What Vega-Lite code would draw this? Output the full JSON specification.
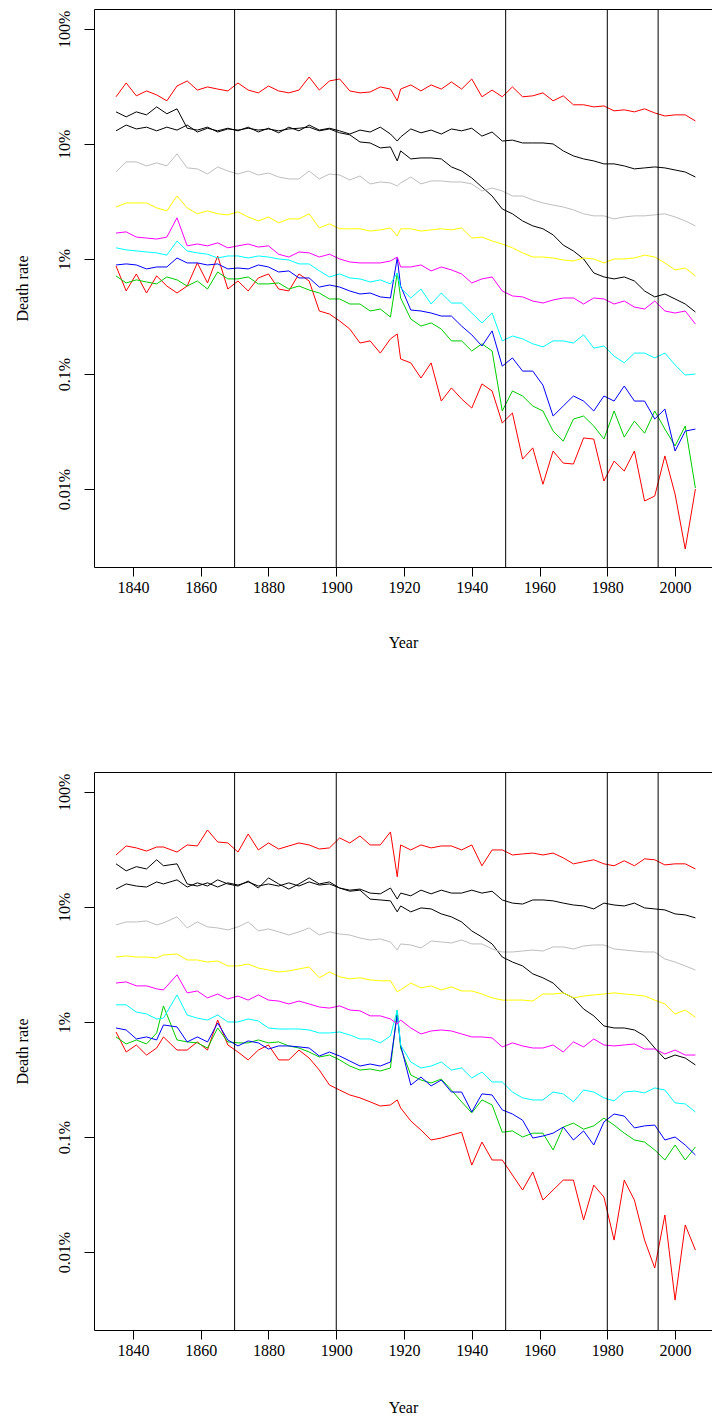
{
  "$schema": "https://vega.github.io/schema/vega-lite/v6.json",
  "background": "white",
  "padding": {"left": 13, "top": 8, "right": 0, "bottom": 0},
  "config": {
    "view": {"stroke": null},
    "concat": {"spacing": 121},
    "axis": {
      "labelFont": "Liberation Serif", "titleFont": "Liberation Serif",
      "labelFontSize": 16, "titleFontSize": 16, "titleFontWeight": "normal",
      "labelColor": "black", "titleColor": "black", "domainColor": "black", "tickColor": "black",
      "domainWidth": 1, "tickWidth": 1, "grid": false, "labelFlush": false, "labelOverlap": false, "labelBound": false
    }
  },
  "datasets": {
    "cuts": [{"year": 1870}, {"year": 1900}, {"year": 1950}, {"year": 1980}, {"year": 1995}],
    "rates": [
      {"p":"A","year":1835,"s01":19.0,"s02":0.869,"s03":0.712,"s04":0.887,"s05":1.25,"s06":1.68,"s07":2.83,"s08":5.70,"s09":13.0,"s10":25.7},
      {"p":"A","year":1838,"s01":17.2,"s02":0.527,"s03":0.619,"s04":0.906,"s05":1.20,"s06":1.72,"s07":3.07,"s08":6.98,"s09":14.6,"s10":33.9},
      {"p":"A","year":1841,"s01":19.0,"s02":0.741,"s03":0.658,"s04":0.887,"s05":1.174,"s06":1.55,"s07":3.07,"s08":6.98,"s09":13.5,"s10":26.2},
      {"p":"A","year":1844,"s01":17.9,"s02":0.506,"s03":0.631,"s04":0.819,"s05":1.15,"s06":1.52,"s07":3.07,"s08":6.44,"s09":14.0,"s10":28.9},
      {"p":"A","year":1847,"s01":21.0,"s02":0.712,"s03":0.607,"s04":0.852,"s05":1.13,"s06":1.49,"s07":2.78,"s08":6.84,"s09":13.0,"s10":26.7},
      {"p":"A","year":1850,"s01":18.3,"s02":0.582,"s03":0.698,"s04":0.852,"s05":1.08,"s06":1.55,"s07":2.62,"s08":6.44,"s09":14.0,"s10":23.7},
      {"p":"A","year":1853,"s01":20.2,"s02":0.506,"s03":0.658,"s04":1.02,"s05":1.434,"s06":2.28,"s07":3.53,"s08":8.20,"s09":13.2,"s10":31.9},
      {"p":"A","year":1856,"s01":13.7,"s02":0.582,"s03":0.582,"s04":0.924,"s05":1.174,"s06":1.30,"s07":2.78,"s08":6.19,"s09":14.6,"s10":35.3},
      {"p":"A","year":1859,"s01":13.2,"s02":0.924,"s03":0.644,"s04":0.924,"s05":1.13,"s06":1.35,"s07":2.47,"s08":6.07,"s09":12.7,"s10":29.4},
      {"p":"A","year":1862,"s01":14.0,"s02":0.619,"s03":0.548,"s04":0.887,"s05":1.10,"s06":1.30,"s07":2.62,"s08":5.48,"s09":13.7,"s10":31.3},
      {"p":"A","year":1865,"s01":12.7,"s02":1.062,"s03":0.771,"s04":0.906,"s05":1.02,"s06":1.38,"s07":2.47,"s08":6.31,"s09":13.0,"s10":30.0},
      {"p":"A","year":1868,"s01":13.5,"s02":0.548,"s03":0.671,"s04":0.819,"s05":1.062,"s06":1.25,"s07":2.42,"s08":5.82,"s09":13.7,"s10":28.9},
      {"p":"A","year":1871,"s01":13.2,"s02":0.644,"s03":0.671,"s04":0.835,"s05":1.062,"s06":1.30,"s07":2.57,"s08":5.48,"s09":13.0,"s10":33.9},
      {"p":"A","year":1874,"s01":13.7,"s02":0.527,"s03":0.698,"s04":0.819,"s05":1.02,"s06":1.35,"s07":2.32,"s08":5.82,"s09":14.0,"s10":29.4},
      {"p":"A","year":1877,"s01":13.2,"s02":0.684,"s03":0.607,"s04":0.887,"s05":1.062,"s06":1.27,"s07":2.14,"s08":5.37,"s09":12.7,"s10":27.8},
      {"p":"A","year":1880,"s01":13.5,"s02":0.741,"s03":0.607,"s04":0.852,"s05":1.04,"s06":1.30,"s07":2.32,"s08":5.59,"s09":13.7,"s10":31.9},
      {"p":"A","year":1883,"s01":13.0,"s02":0.548,"s03":0.619,"s04":0.771,"s05":1.0,"s06":1.10,"s07":2.06,"s08":5.16,"s09":12.5,"s10":28.9},
      {"p":"A","year":1886,"s01":13.5,"s02":0.527,"s03":0.548,"s04":0.787,"s05":0.98,"s06":1.04,"s07":2.23,"s08":4.96,"s09":14.0,"s10":27.8},
      {"p":"A","year":1889,"s01":13.7,"s02":0.741,"s03":0.582,"s04":0.684,"s05":0.906,"s06":1.15,"s07":2.23,"s08":4.96,"s09":13.0,"s10":29.4},
      {"p":"A","year":1892,"s01":14.0,"s02":0.644,"s03":0.537,"s04":0.684,"s05":0.906,"s06":1.13,"s07":2.47,"s08":5.82,"s09":14.6,"s10":38.2},
      {"p":"A","year":1895,"s01":13.0,"s02":0.353,"s03":0.506,"s04":0.570,"s05":0.787,"s06":1.04,"s07":1.86,"s08":4.96,"s09":13.2,"s10":29.4},
      {"p":"A","year":1898,"s01":13.5,"s02":0.332,"s03":0.449,"s04":0.594,"s05":0.698,"s06":1.10,"s07":2.02,"s08":5.48,"s09":13.7,"s10":35.3},
      {"p":"A","year":1901,"s01":12.5,"s02":0.289,"s03":0.449,"s04":0.570,"s05":0.741,"s06":1.0,"s07":1.83,"s08":5.37,"s09":13.0,"s10":36.7},
      {"p":"A","year":1904,"s01":12.0,"s02":0.246,"s03":0.406,"s04":0.527,"s05":0.684,"s06":0.942,"s07":1.83,"s08":4.86,"s09":12.2,"s10":28.9},
      {"p":"A","year":1907,"s01":10.4,"s02":0.186,"s03":0.406,"s04":0.496,"s05":0.671,"s06":0.924,"s07":1.83,"s08":5.27,"s09":13.2,"s10":27.8},
      {"p":"A","year":1910,"s01":10.2,"s02":0.194,"s03":0.353,"s04":0.506,"s05":0.631,"s06":0.924,"s07":1.75,"s08":4.49,"s09":12.7,"s10":28.3},
      {"p":"A","year":1913,"s01":9.24,"s02":0.152,"s03":0.367,"s04":0.468,"s05":0.658,"s06":0.924,"s07":1.79,"s08":4.67,"s09":14.0,"s10":31.3},
      {"p":"A","year":1916,"s01":9.42,"s02":0.202,"s03":0.313,"s04":0.458,"s05":0.607,"s06":0.961,"s07":1.86,"s08":4.58,"s09":12.2,"s10":30.0},
      {"p":"A","year":1918,"s01":7.12,"s02":0.223,"s03":0.756,"s04":1.02,"s05":0.756,"s06":1.04,"s07":1.585,"s08":4.31,"s09":10.6,"s10":23.7},
      {"p":"A","year":1919,"s01":8.70,"s02":0.135,"s03":0.458,"s04":0.582,"s05":0.560,"s06":0.852,"s07":1.83,"s08":4.58,"s09":11.5,"s10":30.0},
      {"p":"A","year":1922,"s01":7.41,"s02":0.125,"s03":0.301,"s04":0.360,"s05":0.458,"s06":0.852,"s07":1.83,"s08":5.16,"s09":13.5,"s10":32.6},
      {"p":"A","year":1925,"s01":7.56,"s02":0.0923,"s03":0.261,"s04":0.353,"s05":0.548,"s06":0.887,"s07":1.75,"s08":4.49,"s09":12.5,"s10":28.9},
      {"p":"A","year":1928,"s01":7.56,"s02":0.125,"s03":0.278,"s04":0.339,"s05":0.406,"s06":0.787,"s07":1.79,"s08":4.77,"s09":13.2,"s10":32.6},
      {"p":"A","year":1931,"s01":7.41,"s02":0.0582,"s03":0.246,"s04":0.319,"s05":0.506,"s06":0.852,"s07":1.83,"s08":4.77,"s09":12.2,"s10":30.0},
      {"p":"A","year":1934,"s01":6.31,"s02":0.0757,"s03":0.194,"s04":0.319,"s05":0.414,"s06":0.803,"s07":1.79,"s08":4.67,"s09":13.5,"s10":34.6},
      {"p":"A","year":1937,"s01":5.82,"s02":0.0607,"s03":0.194,"s04":0.261,"s05":0.414,"s06":0.741,"s07":1.86,"s08":4.67,"s09":13.0,"s10":30.0},
      {"p":"A","year":1940,"s01":5.06,"s02":0.0506,"s03":0.1585,"s04":0.219,"s05":0.339,"s06":0.619,"s07":1.52,"s08":4.49,"s09":13.7,"s10":36.7},
      {"p":"A","year":1943,"s01":4.22,"s02":0.0820,"s03":0.183,"s04":0.175,"s05":0.278,"s06":0.671,"s07":1.55,"s08":3.90,"s09":11.7,"s10":25.7},
      {"p":"A","year":1946,"s01":3.53,"s02":0.0712,"s03":0.1585,"s04":0.237,"s05":0.339,"s06":0.698,"s07":1.434,"s08":4.14,"s09":12.7,"s10":29.4},
      {"p":"A","year":1949,"s01":2.72,"s02":0.0375,"s03":0.0477,"s04":0.117,"s05":0.194,"s06":0.527,"s07":1.35,"s08":3.90,"s09":10.6,"s10":25.7},
      {"p":"A","year":1952,"s01":2.47,"s02":0.0458,"s03":0.0712,"s04":0.138,"s05":0.214,"s06":0.477,"s07":1.25,"s08":3.53,"s09":10.8,"s10":31.3},
      {"p":"A","year":1955,"s01":2.14,"s02":0.0182,"s03":0.0644,"s04":0.106,"s05":0.202,"s06":0.468,"s07":1.13,"s08":3.53,"s09":10.2,"s10":25.7},
      {"p":"A","year":1958,"s01":1.94,"s02":0.0228,"s03":0.0527,"s04":0.106,"s05":0.183,"s06":0.431,"s07":1.04,"s08":3.26,"s09":10.2,"s10":26.2},
      {"p":"A","year":1961,"s01":1.83,"s02":0.0110,"s03":0.0477,"s04":0.080,"s05":0.172,"s06":0.414,"s07":1.04,"s08":3.07,"s09":10.2,"s10":27.8},
      {"p":"A","year":1964,"s01":1.62,"s02":0.0214,"s03":0.0319,"s04":0.0431,"s05":0.194,"s06":0.440,"s07":1.02,"s08":2.94,"s09":10.0,"s10":23.7},
      {"p":"A","year":1967,"s01":1.32,"s02":0.0168,"s03":0.0261,"s04":0.0527,"s05":0.194,"s06":0.458,"s07":0.98,"s08":2.83,"s09":8.70,"s10":26.2},
      {"p":"A","year":1970,"s01":1.174,"s02":0.0165,"s03":0.0406,"s04":0.0644,"s05":0.186,"s06":0.458,"s07":0.961,"s08":2.67,"s09":7.87,"s10":21.9},
      {"p":"A","year":1973,"s01":1.0,"s02":0.0278,"s03":0.0431,"s04":0.0582,"s05":0.219,"s06":0.406,"s07":1.02,"s08":2.47,"s09":7.41,"s10":21.9},
      {"p":"A","year":1976,"s01":0.756,"s02":0.0272,"s03":0.0353,"s04":0.0477,"s05":0.168,"s06":0.458,"s07":1.0,"s08":2.37,"s09":7.12,"s10":21.0},
      {"p":"A","year":1979,"s01":0.698,"s02":0.01174,"s03":0.0272,"s04":0.0644,"s05":0.175,"s06":0.449,"s07":0.924,"s08":2.37,"s09":6.71,"s10":21.4},
      {"p":"A","year":1982,"s01":0.671,"s02":0.0175,"s03":0.0477,"s04":0.0582,"s05":0.143,"s06":0.406,"s07":1.0,"s08":2.23,"s09":6.71,"s10":19.4},
      {"p":"A","year":1985,"s01":0.698,"s02":0.01434,"s03":0.0283,"s04":0.0787,"s05":0.125,"s06":0.431,"s07":1.0,"s08":2.32,"s09":6.44,"s10":19.8},
      {"p":"A","year":1988,"s01":0.644,"s02":0.0214,"s03":0.0390,"s04":0.0582,"s05":0.152,"s06":0.382,"s07":1.02,"s08":2.37,"s09":6.07,"s10":19.0},
      {"p":"A","year":1991,"s01":0.527,"s02":0.00787,"s03":0.0306,"s04":0.0582,"s05":0.152,"s06":0.367,"s07":1.08,"s08":2.37,"s09":6.19,"s10":20.2},
      {"p":"A","year":1994,"s01":0.468,"s02":0.00869,"s03":0.0477,"s04":0.0406,"s05":0.138,"s06":0.431,"s07":1.04,"s08":2.42,"s09":6.31,"s10":18.6},
      {"p":"A","year":1997,"s01":0.496,"s02":0.0194,"s03":0.0332,"s04":0.0496,"s05":0.152,"s06":0.353,"s07":0.924,"s08":2.47,"s09":6.19,"s10":17.5},
      {"p":"A","year":2000,"s01":0.449,"s02":0.00904,"s03":0.0237,"s04":0.0214,"s05":0.120,"s06":0.339,"s07":0.803,"s08":2.32,"s09":5.94,"s10":17.9},
      {"p":"A","year":2003,"s01":0.406,"s02":0.00301,"s03":0.0353,"s04":0.0319,"s05":0.098,"s06":0.353,"s07":0.835,"s08":2.14,"s09":5.70,"s10":17.9},
      {"p":"A","year":2006,"s01":0.346,"s02":0.0100,"s03":0.0102,"s04":0.0332,"s05":0.100,"s06":0.272,"s07":0.712,"s08":1.94,"s09":5.16,"s10":15.85},
      {"p":"B","year":1835,"s01":23.7,"s02":0.819,"s03":0.741,"s04":0.887,"s05":1.41,"s06":2.18,"s07":3.67,"s08":6.98,"s09":14.3,"s10":28.3},
      {"p":"B","year":1838,"s01":20.6,"s02":0.548,"s03":0.644,"s04":0.852,"s05":1.41,"s06":2.23,"s07":3.75,"s08":7.41,"s09":15.85,"s10":33.9},
      {"p":"B","year":1841,"s01":22.4,"s02":0.631,"s03":0.698,"s04":0.712,"s05":1.22,"s06":2.06,"s07":3.67,"s08":7.41,"s09":15.2,"s10":32.6},
      {"p":"B","year":1844,"s01":21.4,"s02":0.516,"s03":0.644,"s04":0.741,"s05":1.174,"s06":2.06,"s07":3.67,"s08":7.56,"s09":14.9,"s10":30.6},
      {"p":"B","year":1847,"s01":25.7,"s02":0.594,"s03":0.803,"s04":0.698,"s05":1.062,"s06":1.94,"s07":3.60,"s08":6.98,"s09":16.5,"s10":33.2},
      {"p":"B","year":1849,"s01":22.8,"s02":0.741,"s03":1.38,"s04":0.942,"s05":1.08,"s06":1.90,"s07":3.82,"s08":7.26,"s09":15.85,"s10":33.2},
      {"p":"B","year":1853,"s01":23.7,"s02":0.570,"s03":0.698,"s04":0.906,"s05":1.72,"s06":2.57,"s07":3.90,"s08":8.20,"s09":17.2,"s10":30.0},
      {"p":"B","year":1856,"s01":15.85,"s02":0.570,"s03":0.671,"s04":0.671,"s05":1.15,"s06":1.79,"s07":3.46,"s08":6.57,"s09":14.9,"s10":34.6},
      {"p":"B","year":1859,"s01":15.2,"s02":0.671,"s03":0.658,"s04":0.741,"s05":1.08,"s06":1.86,"s07":3.46,"s08":7.41,"s09":16.2,"s10":33.9},
      {"p":"B","year":1862,"s01":16.2,"s02":0.570,"s03":0.594,"s04":0.671,"s05":1.04,"s06":1.62,"s07":3.32,"s08":6.71,"s09":15.2,"s10":46.7},
      {"p":"B","year":1865,"s01":14.9,"s02":1.04,"s03":0.887,"s04":0.98,"s05":1.15,"s06":1.75,"s07":3.39,"s08":6.57,"s09":17.2,"s10":36.7},
      {"p":"B","year":1868,"s01":16.2,"s02":0.631,"s03":0.671,"s04":0.698,"s05":1.0,"s06":1.585,"s07":3.07,"s08":6.31,"s09":15.85,"s10":36.0},
      {"p":"B","year":1871,"s01":15.5,"s02":0.548,"s03":0.658,"s04":0.619,"s05":1.0,"s06":1.68,"s07":3.07,"s08":6.71,"s09":15.2,"s10":30.0},
      {"p":"B","year":1874,"s01":16.5,"s02":0.468,"s03":0.658,"s04":0.684,"s05":1.062,"s06":1.55,"s07":3.19,"s08":7.41,"s09":16.8,"s10":43.1},
      {"p":"B","year":1877,"s01":15.2,"s02":0.570,"s03":0.698,"s04":0.658,"s05":1.02,"s06":1.72,"s07":2.94,"s08":6.19,"s09":14.6,"s10":31.3},
      {"p":"B","year":1880,"s01":15.85,"s02":0.631,"s03":0.658,"s04":0.582,"s05":0.887,"s06":1.55,"s07":2.83,"s08":6.44,"s09":17.9,"s10":36.0},
      {"p":"B","year":1883,"s01":15.2,"s02":0.468,"s03":0.671,"s04":0.619,"s05":0.869,"s06":1.52,"s07":2.72,"s08":6.07,"s09":15.85,"s10":31.9},
      {"p":"B","year":1886,"s01":16.2,"s02":0.468,"s03":0.619,"s04":0.619,"s05":0.869,"s06":1.434,"s07":2.78,"s08":5.70,"s09":14.3,"s10":33.9},
      {"p":"B","year":1889,"s01":15.2,"s02":0.570,"s03":0.594,"s04":0.607,"s05":0.869,"s06":1.52,"s07":2.89,"s08":6.07,"s09":15.85,"s10":36.0},
      {"p":"B","year":1892,"s01":16.5,"s02":0.486,"s03":0.548,"s04":0.594,"s05":0.852,"s06":1.434,"s07":3.01,"s08":6.57,"s09":17.9,"s10":34.6},
      {"p":"B","year":1895,"s01":15.5,"s02":0.382,"s03":0.496,"s04":0.506,"s05":0.803,"s06":1.35,"s07":2.42,"s08":5.70,"s09":15.85,"s10":31.9},
      {"p":"B","year":1898,"s01":15.85,"s02":0.283,"s03":0.516,"s04":0.548,"s05":0.803,"s06":1.32,"s07":2.72,"s08":6.07,"s09":16.5,"s10":32.6},
      {"p":"B","year":1901,"s01":14.6,"s02":0.256,"s03":0.468,"s04":0.506,"s05":0.819,"s06":1.38,"s07":2.47,"s08":5.82,"s09":14.6,"s10":39.8},
      {"p":"B","year":1904,"s01":13.7,"s02":0.232,"s03":0.414,"s04":0.458,"s05":0.771,"s06":1.27,"s07":2.37,"s08":5.70,"s09":14.0,"s10":36.0},
      {"p":"B","year":1907,"s01":14.0,"s02":0.219,"s03":0.382,"s04":0.414,"s05":0.712,"s06":1.25,"s07":2.42,"s08":5.37,"s09":14.3,"s10":41.4},
      {"p":"B","year":1910,"s01":11.7,"s02":0.202,"s03":0.390,"s04":0.431,"s05":0.712,"s06":1.13,"s07":2.32,"s08":5.16,"s09":13.2,"s10":34.6},
      {"p":"B","year":1913,"s01":11.5,"s02":0.186,"s03":0.375,"s04":0.414,"s05":0.658,"s06":1.13,"s07":2.28,"s08":5.27,"s09":13.0,"s10":34.6},
      {"p":"B","year":1916,"s01":11.3,"s02":0.190,"s03":0.398,"s04":0.449,"s05":0.756,"s06":1.062,"s07":2.28,"s08":4.96,"s09":14.6,"s10":44.9},
      {"p":"B","year":1918,"s01":9.06,"s02":0.210,"s03":1.27,"s04":1.15,"s05":1.27,"s06":0.961,"s07":1.83,"s08":4.22,"s09":11.7,"s10":18.3},
      {"p":"B","year":1919,"s01":10.2,"s02":0.179,"s03":0.594,"s04":0.631,"s05":0.631,"s06":1.04,"s07":1.90,"s08":4.77,"s09":13.2,"s10":34.6},
      {"p":"B","year":1922,"s01":9.06,"s02":0.138,"s03":0.346,"s04":0.283,"s05":0.449,"s06":0.887,"s07":2.18,"s08":4.67,"s09":12.5,"s10":31.3},
      {"p":"B","year":1925,"s01":9.81,"s02":0.115,"s03":0.313,"s04":0.332,"s05":0.398,"s06":0.787,"s07":1.98,"s08":4.40,"s09":14.0,"s10":34.6},
      {"p":"B","year":1928,"s01":9.61,"s02":0.0942,"s03":0.295,"s04":0.278,"s05":0.414,"s06":0.835,"s07":2.06,"s08":5.06,"s09":13.0,"s10":32.6},
      {"p":"B","year":1931,"s01":8.70,"s02":0.098,"s03":0.319,"s04":0.313,"s05":0.449,"s06":0.852,"s07":1.90,"s08":4.96,"s09":14.0,"s10":33.9},
      {"p":"B","year":1934,"s01":8.20,"s02":0.104,"s03":0.256,"s04":0.246,"s05":0.382,"s06":0.835,"s07":2.02,"s08":4.86,"s09":13.2,"s10":33.9},
      {"p":"B","year":1937,"s01":7.41,"s02":0.110,"s03":0.202,"s04":0.246,"s05":0.398,"s06":0.787,"s07":1.86,"s08":5.16,"s09":13.2,"s10":31.3},
      {"p":"B","year":1940,"s01":6.19,"s02":0.0570,"s03":0.162,"s04":0.165,"s05":0.326,"s06":0.741,"s07":1.86,"s08":4.77,"s09":14.0,"s10":34.6},
      {"p":"B","year":1943,"s01":5.48,"s02":0.0904,"s03":0.210,"s04":0.237,"s05":0.367,"s06":0.741,"s07":1.75,"s08":4.77,"s09":13.2,"s10":22.8},
      {"p":"B","year":1946,"s01":4.77,"s02":0.0631,"s03":0.190,"s04":0.232,"s05":0.301,"s06":0.727,"s07":1.62,"s08":4.31,"s09":13.7,"s10":31.3},
      {"p":"B","year":1949,"s01":3.67,"s02":0.0631,"s03":0.110,"s04":0.172,"s05":0.301,"s06":0.607,"s07":1.55,"s08":4.06,"s09":11.5,"s10":31.3},
      {"p":"B","year":1952,"s01":3.32,"s02":0.0467,"s03":0.113,"s04":0.1585,"s05":0.246,"s06":0.658,"s07":1.55,"s08":4.06,"s09":10.8,"s10":28.3},
      {"p":"B","year":1955,"s01":3.07,"s02":0.0346,"s03":0.100,"s04":0.140,"s05":0.219,"s06":0.619,"s07":1.55,"s08":4.14,"s09":10.6,"s10":28.9},
      {"p":"B","year":1958,"s01":2.62,"s02":0.0496,"s03":0.108,"s04":0.098,"s05":0.210,"s06":0.594,"s07":1.52,"s08":4.22,"s09":11.5,"s10":29.4},
      {"p":"B","year":1961,"s01":2.42,"s02":0.0283,"s03":0.108,"s04":0.102,"s05":0.210,"s06":0.594,"s07":1.75,"s08":4.14,"s09":11.5,"s10":28.3},
      {"p":"B","year":1964,"s01":2.18,"s02":0.0346,"s03":0.0771,"s04":0.108,"s05":0.246,"s06":0.631,"s07":1.75,"s08":4.49,"s09":11.3,"s10":29.4},
      {"p":"B","year":1967,"s01":1.79,"s02":0.0422,"s03":0.122,"s04":0.122,"s05":0.237,"s06":0.548,"s07":1.79,"s08":4.49,"s09":10.8,"s10":26.7},
      {"p":"B","year":1970,"s01":1.62,"s02":0.0422,"s03":0.132,"s04":0.0942,"s05":0.202,"s06":0.671,"s07":1.62,"s08":4.31,"s09":10.4,"s10":23.7},
      {"p":"B","year":1973,"s01":1.297,"s02":0.0190,"s03":0.117,"s04":0.113,"s05":0.256,"s06":0.607,"s07":1.68,"s08":4.58,"s09":10.2,"s10":24.7},
      {"p":"B","year":1976,"s01":1.13,"s02":0.0382,"s03":0.125,"s04":0.0852,"s05":0.246,"s06":0.712,"s07":1.72,"s08":4.67,"s09":9.61,"s10":25.7},
      {"p":"B","year":1979,"s01":0.924,"s02":0.0301,"s03":0.146,"s04":0.135,"s05":0.219,"s06":0.631,"s07":1.75,"s08":4.67,"s09":10.8,"s10":23.7},
      {"p":"B","year":1982,"s01":0.887,"s02":0.0127,"s03":0.127,"s04":0.1585,"s05":0.206,"s06":0.619,"s07":1.79,"s08":4.31,"s09":10.4,"s10":22.8},
      {"p":"B","year":1985,"s01":0.887,"s02":0.0422,"s03":0.108,"s04":0.152,"s05":0.246,"s06":0.631,"s07":1.75,"s08":4.22,"s09":10.2,"s10":25.2},
      {"p":"B","year":1988,"s01":0.852,"s02":0.0283,"s03":0.0942,"s04":0.120,"s05":0.251,"s06":0.644,"s07":1.72,"s08":4.14,"s09":10.8,"s10":22.8},
      {"p":"B","year":1991,"s01":0.756,"s02":0.0127,"s03":0.0904,"s04":0.125,"s05":0.242,"s06":0.582,"s07":1.68,"s08":4.06,"s09":9.81,"s10":26.2},
      {"p":"B","year":1994,"s01":0.594,"s02":0.00726,"s03":0.0771,"s04":0.127,"s05":0.267,"s06":0.582,"s07":1.55,"s08":4.06,"s09":9.61,"s10":25.7},
      {"p":"B","year":1997,"s01":0.477,"s02":0.0210,"s03":0.0631,"s04":0.0942,"s05":0.256,"s06":0.527,"s07":1.434,"s08":3.53,"s09":9.42,"s10":23.2},
      {"p":"B","year":2000,"s01":0.516,"s02":0.00382,"s03":0.0852,"s04":0.100,"s05":0.198,"s06":0.570,"s07":1.174,"s08":3.32,"s09":8.70,"s10":23.7},
      {"p":"B","year":2003,"s01":0.486,"s02":0.0172,"s03":0.0631,"s04":0.0852,"s05":0.194,"s06":0.516,"s07":1.27,"s08":3.07,"s09":8.53,"s10":23.7},
      {"p":"B","year":2006,"s01":0.423,"s02":0.0104,"s03":0.0819,"s04":0.0698,"s05":0.165,"s06":0.516,"s07":1.10,"s08":2.83,"s09":8.04,"s10":21.4}
    ]
  },
  "vconcat": [
    {
      "width": 618, "height": 558,
      "resolve": {"axis": {"x": "independent"}},
      "layer": [
        {
          "data": {"name": "rates"},
          "transform": [
            {"filter": "datum.p == 'A'"},
            {"fold": ["s01","s02","s03","s04","s05","s06","s07","s08","s09","s10"], "as": ["group", "rate"]}
          ],
          "mark": {"type": "line", "strokeWidth": 1},
          "encoding": {
            "x": {"field": "year", "type": "quantitative",
                  "scale": {"domain": [1828.5, 2010.9], "nice": false, "zero": false},
                  "axis": {"values": [1840,1860,1880,1900,1920,1940,1960,1980,2000], "format": "d", "tickSize": 9, "labelPadding": 3, "title": "Year", "titlePadding": 39}},
            "y": {"field": "rate", "type": "quantitative",
                  "scale": {"type": "log", "domain": [0.0021, 149], "nice": false},
                  "axis": {"values": [0.01, 0.1, 1, 10, 100], "labelExpr": "datum.value + '%'", "labelAngle": 270, "labelAlign": "center", "labelBaseline": "alphabetic", "tickSize": 10, "labelPadding": 15, "title": "Death rate", "titlePadding": 26}},
            "color": {"field": "group", "type": "nominal", "legend": null,
                      "scale": {"domain": ["s01","s02","s03","s04","s05","s06","s07","s08","s09","s10"],
                                "range": ["#000000","#FF0000","#00CD00","#0000FF","#00FFFF","#FF00FF","#FFFF00","#BEBEBE","#000000","#FF0000"]}}
          }
        },
        {
          "data": {"name": "cuts"},
          "mark": {"type": "rule", "color": "black", "strokeWidth": 1},
          "encoding": {
            "x": {"field": "year", "type": "quantitative",
                  "axis": {"orient": "top", "labels": false, "ticks": false, "title": null, "domain": true}}
          }
        }
      ]
    },
    {
      "width": 618, "height": 558,
      "resolve": {"axis": {"x": "independent"}},
      "layer": [
        {
          "data": {"name": "rates"},
          "transform": [
            {"filter": "datum.p == 'B'"},
            {"fold": ["s01","s02","s03","s04","s05","s06","s07","s08","s09","s10"], "as": ["group", "rate"]}
          ],
          "mark": {"type": "line", "strokeWidth": 1},
          "encoding": {
            "x": {"field": "year", "type": "quantitative",
                  "scale": {"domain": [1828.5, 2010.9], "nice": false, "zero": false},
                  "axis": {"values": [1840,1860,1880,1900,1920,1940,1960,1980,2000], "format": "d", "tickSize": 9, "labelPadding": 3, "title": "Year", "titlePadding": 41}},
            "y": {"field": "rate", "type": "quantitative",
                  "scale": {"type": "log", "domain": [0.0021, 149], "nice": false},
                  "axis": {"values": [0.01, 0.1, 1, 10, 100], "labelExpr": "datum.value + '%'", "labelAngle": 270, "labelAlign": "center", "labelBaseline": "alphabetic", "tickSize": 10, "labelPadding": 15, "title": "Death rate", "titlePadding": 26}},
            "color": {"field": "group", "type": "nominal", "legend": null,
                      "scale": {"domain": ["s01","s02","s03","s04","s05","s06","s07","s08","s09","s10"],
                                "range": ["#000000","#FF0000","#00CD00","#0000FF","#00FFFF","#FF00FF","#FFFF00","#BEBEBE","#000000","#FF0000"]}}
          }
        },
        {
          "data": {"name": "cuts"},
          "mark": {"type": "rule", "color": "black", "strokeWidth": 1},
          "encoding": {
            "x": {"field": "year", "type": "quantitative",
                  "axis": {"orient": "top", "labels": false, "ticks": false, "title": null, "domain": true}}
          }
        }
      ]
    }
  ]
}
